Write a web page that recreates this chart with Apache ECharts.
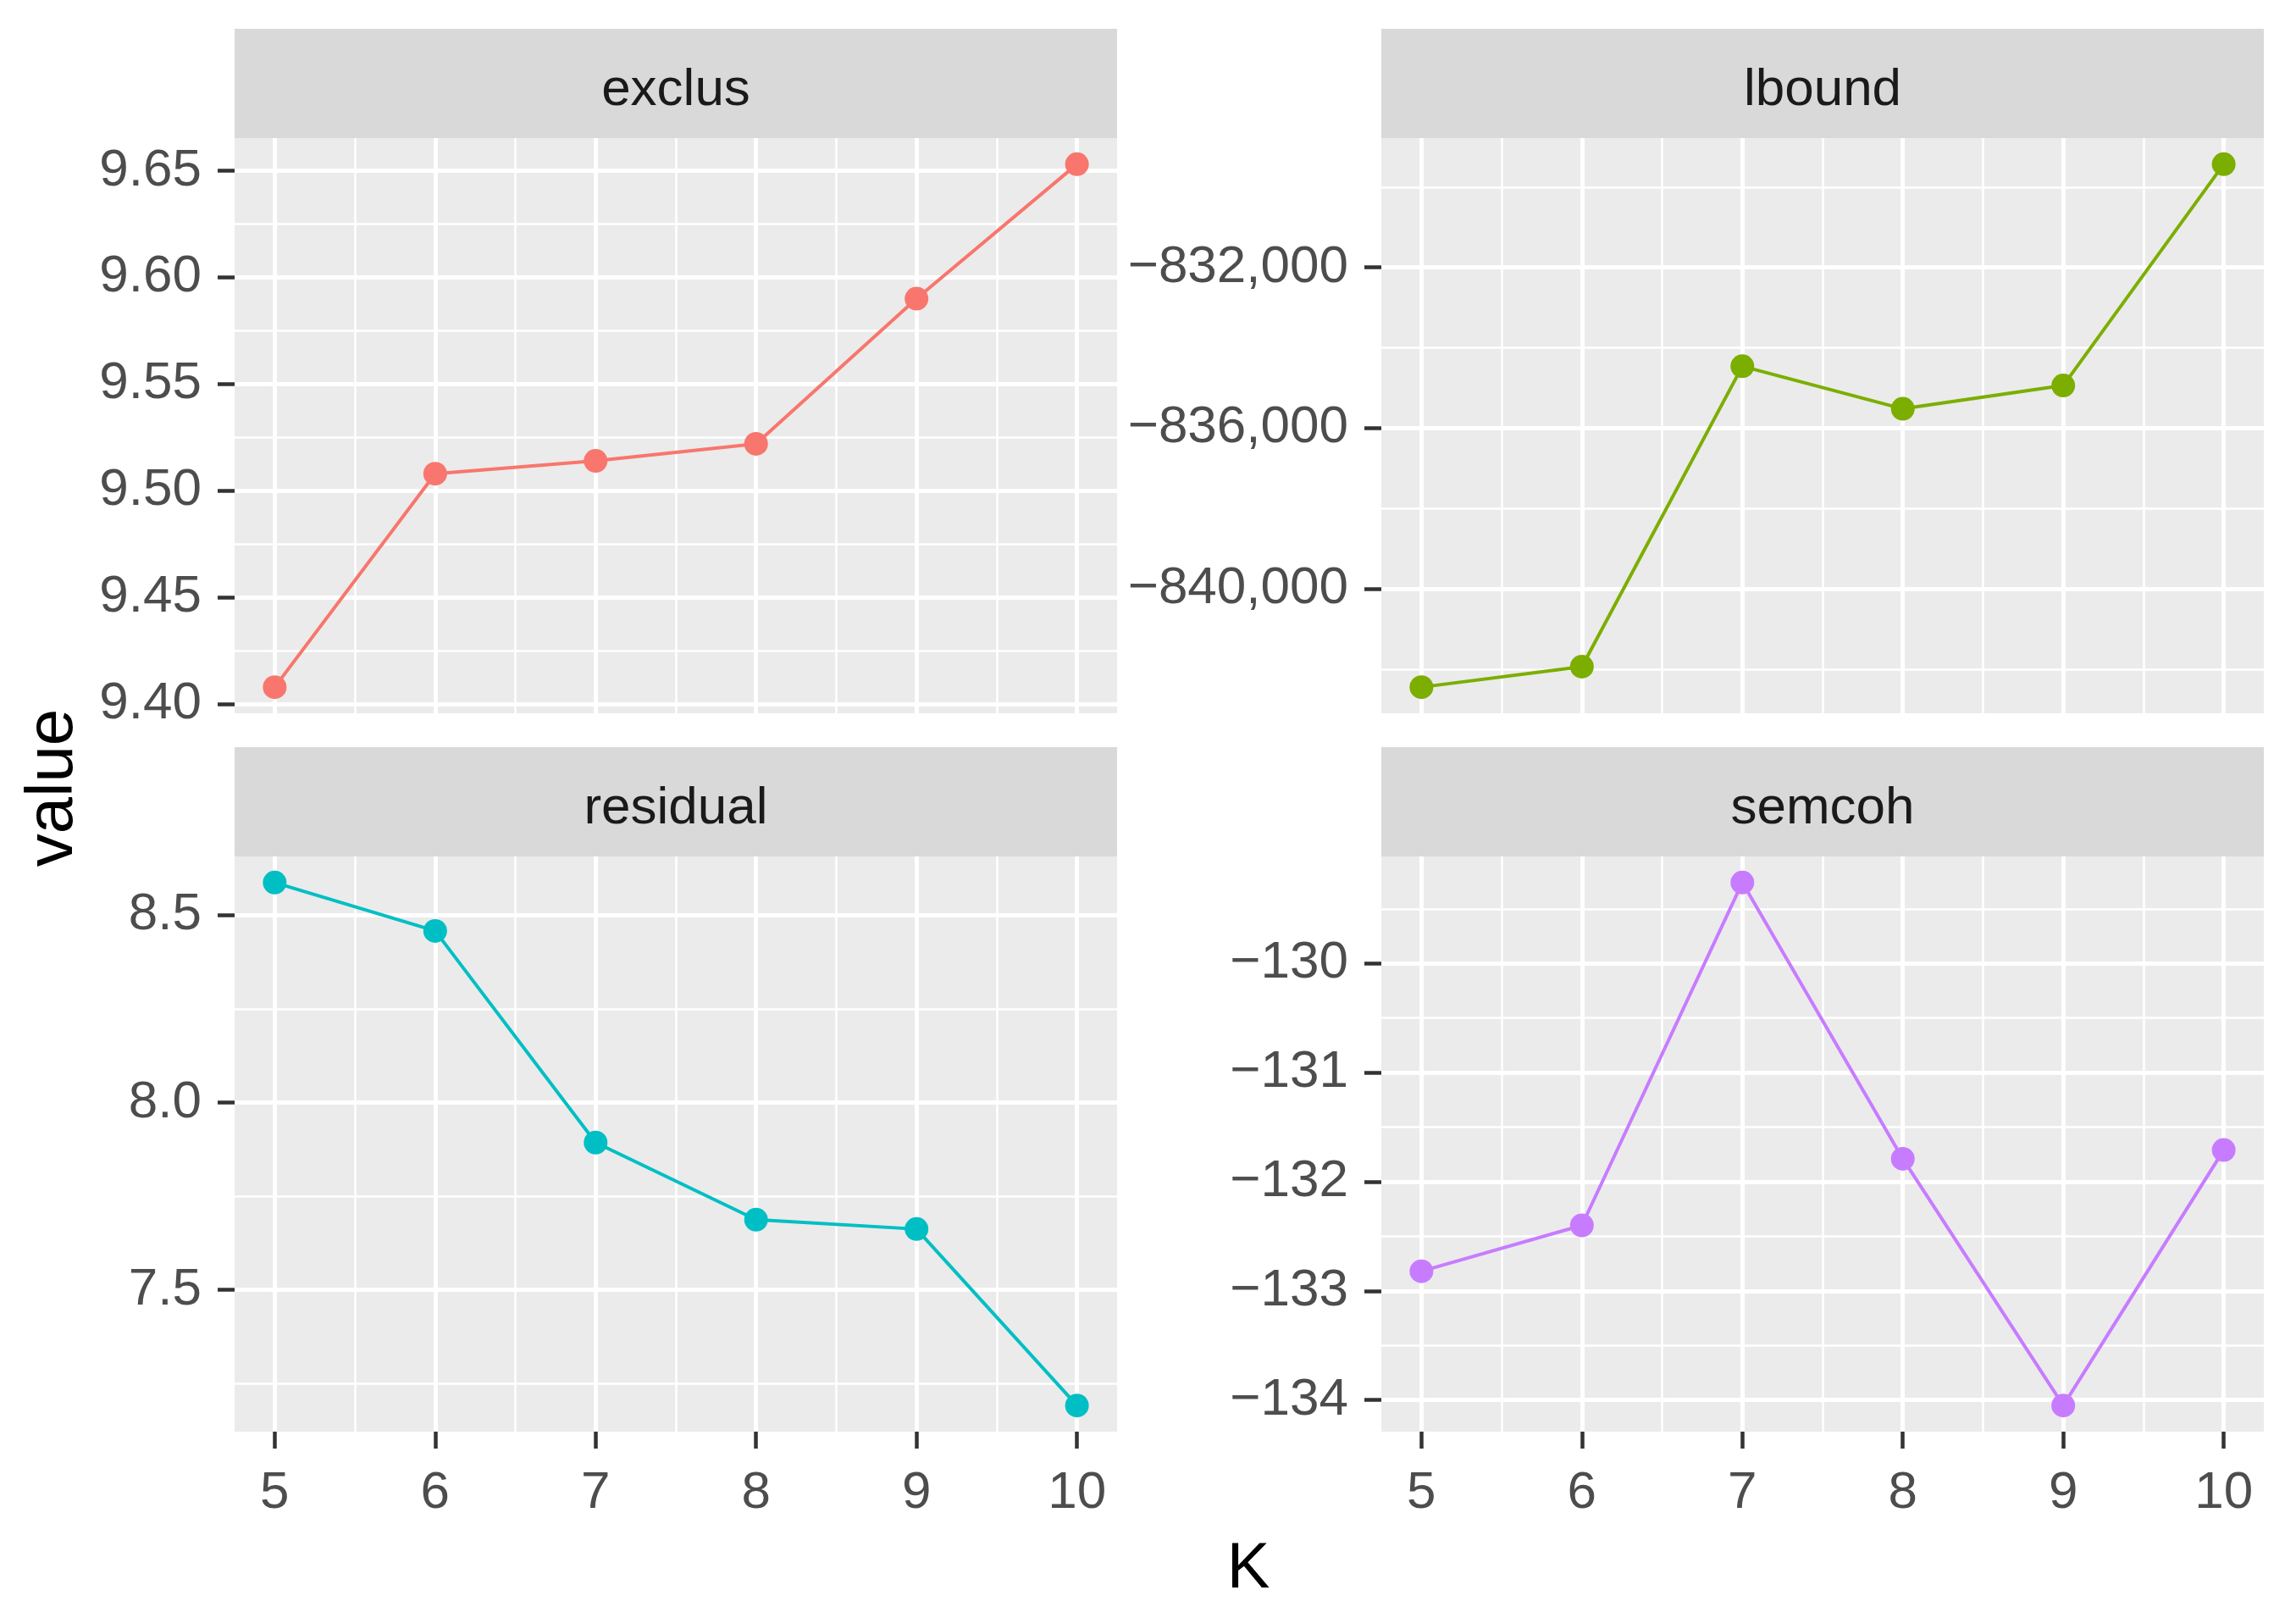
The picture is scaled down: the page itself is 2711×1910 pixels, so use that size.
<!DOCTYPE html>
<html>
<head>
<meta charset="utf-8">
<script src="https://cdn.jsdelivr.net/npm/echarts@6/dist/echarts.min.js"></script>
<style>
  html, body { margin: 0; background: #fff; }
  #chart { width: 2711px; height: 1910px; }
</style>
</head>
<body>
<div id="chart"></div>
<script>
var kValues = [5, 6, 7, 8, 9, 10];
var kTicks = [5, 6, 7, 8, 9, 10];

var exclusValues = [9.408, 9.508, 9.514, 9.522, 9.590, 9.653];
var lboundValues = [-842450, -841940, -834460, -835520, -834940, -829430];
var residualValues = [8.587, 8.458, 7.893, 7.687, 7.662, 7.191];
var semcohValues = [-132.82, -132.40, -129.26, -131.79, -134.05, -131.71];

var exclusTicks = [9.40, 9.45, 9.50, 9.55, 9.60, 9.65];
var lboundTicks = [-840000, -836000, -832000];
var residualTicks = [7.5, 8.0, 8.5];
var semcohTicks = [-134, -133, -132, -131, -130];

var font = 'Liberation Sans, Arial, sans-serif';
var tickColor = '#333333';
var labelColor = '#4D4D4D';

var panels = [
	{ name: 'exclus', values: exclusValues, ticks: exclusTicks, digits: 2, comma: false, color: '#F8766D', left: 277, top: 163, bottom: false },
	{ name: 'lbound', values: lboundValues, ticks: lboundTicks, digits: 0, comma: true, color: '#7CAE00', left: 1631, top: 163, bottom: false },
	{ name: 'residual', values: residualValues, ticks: residualTicks, digits: 1, comma: false, color: '#00BFC4', left: 277, top: 1011, bottom: true },
	{ name: 'semcoh', values: semcohValues, ticks: semcohTicks, digits: 0, comma: false, color: '#C77CFF', left: 1631, top: 1011, bottom: true }
];
var panelW = 1042;
var panelH = 679;
var stripH = 129;

// ggplot style: 5% padding on each side of the data range
function expand(vals) {
	var lo = Math.min.apply(null, vals), hi = Math.max.apply(null, vals);
	var pad = (hi - lo) * 0.05;
	return [lo - pad, hi + pad];
}

function minorsOf(ticks, range) {
	var step = ticks[1] - ticks[0];
	var out = [];
	for (var v = ticks[0] - step / 2; v <= ticks[ticks.length - 1] + step; v += step) {
		if (v >= range[0] && v <= range[1]) out.push(+v.toFixed(6));
	}
	return out;
}

function fmt(v, digits, comma) {
	var s = Math.abs(v).toFixed(digits);
	if (comma) s = s.replace(/\B(?=(\d{3})+(?!\d))/g, ',');
	return (v < 0 ? '\u2212' : '') + s;
}

var grids = [], xAxes = [], yAxes = [], series = [], graphics = [];
var xRange = expand(kValues);
var xMinors = minorsOf(kTicks, xRange);

panels.forEach(function (p, i) {
	var yRange = expand(p.values);
	var yMinors = minorsOf(p.ticks, yRange);

	grids.push({
		left: p.left, top: p.top, width: panelW, height: panelH,
		show: true, backgroundColor: '#EBEBEB', borderWidth: 0
	});

	// major x axis (labels, ticks, major grid)
	xAxes.push({
		type: 'value', gridIndex: i, min: xRange[0], max: xRange[1],
		axisLine: { show: false },
		axisTick: { show: p.bottom, length: 20, customValues: kTicks, lineStyle: { color: tickColor, width: 4.5 } },
		axisLabel: { show: p.bottom, customValues: kTicks, margin: 42, fontSize: 62, color: labelColor, fontFamily: font },
		splitLine: { show: true, lineStyle: { color: '#fff', width: 5 } }
	});
	// minor x grid
	xAxes.push({
		type: 'value', gridIndex: i, min: xRange[0], max: xRange[1],
		axisLine: { show: false },
		axisTick: { show: false, customValues: xMinors },
		axisLabel: { show: false, customValues: xMinors },
		splitLine: { show: true, lineStyle: { color: '#fff', width: 2.5 } }
	});

	yAxes.push({
		type: 'value', gridIndex: i, min: yRange[0], max: yRange[1],
		axisLine: { show: false },
		axisTick: { show: true, length: 20, customValues: p.ticks, lineStyle: { color: tickColor, width: 4.5 } },
		axisLabel: {
			show: true, customValues: p.ticks, margin: 39, fontSize: 62, color: labelColor, fontFamily: font,
			formatter: (function (d, c) { return function (v) { return fmt(v, d, c); }; })(p.digits, p.comma)
		},
		splitLine: { show: true, lineStyle: { color: '#fff', width: 5 } }
	});
	yAxes.push({
		type: 'value', gridIndex: i, min: yRange[0], max: yRange[1],
		axisLine: { show: false },
		axisTick: { show: false, customValues: yMinors },
		axisLabel: { show: false, customValues: yMinors },
		splitLine: { show: true, lineStyle: { color: '#fff', width: 2.5 } }
	});

	series.push({
		name: p.name, type: 'line',
		xAxisIndex: 2 * i, yAxisIndex: 2 * i,
		data: kValues.map(function (k, j) { return [k, p.values[j]]; }),
		symbol: 'circle', symbolSize: 28,
		lineStyle: { color: p.color, width: 4 },
		itemStyle: { color: p.color },
		z: 5
	});

	graphics.push({
		type: 'rect', shape: { x: p.left, y: p.top - stripH, width: panelW, height: stripH },
		style: { fill: '#D9D9D9' }, silent: true
	});
	graphics.push({
		type: 'text', x: p.left + panelW / 2, y: p.top - stripH / 2 + 8,
		style: { text: p.name, fill: '#1A1A1A', font: '62px ' + font, textAlign: 'center', textVerticalAlign: 'middle' },
		silent: true
	});
});

graphics.push({
	type: 'text', x: 63, y: 930, rotation: Math.PI / 2,
	style: { text: 'value', fill: '#000', font: '78px ' + font, textAlign: 'center', textVerticalAlign: 'middle' }
});
graphics.push({
	type: 'text', x: 1474, y: 1853,
	style: { text: 'K', fill: '#000', font: '76px ' + font, textAlign: 'center', textVerticalAlign: 'middle' }
});

var chart = echarts.init(document.getElementById('chart'));
chart.setOption({
	backgroundColor: '#fff',
	animation: false,
	textStyle: { fontFamily: font },
	grid: grids,
	xAxis: xAxes,
	yAxis: yAxes,
	series: series,
	graphic: graphics
});
</script>
</body>
</html>
